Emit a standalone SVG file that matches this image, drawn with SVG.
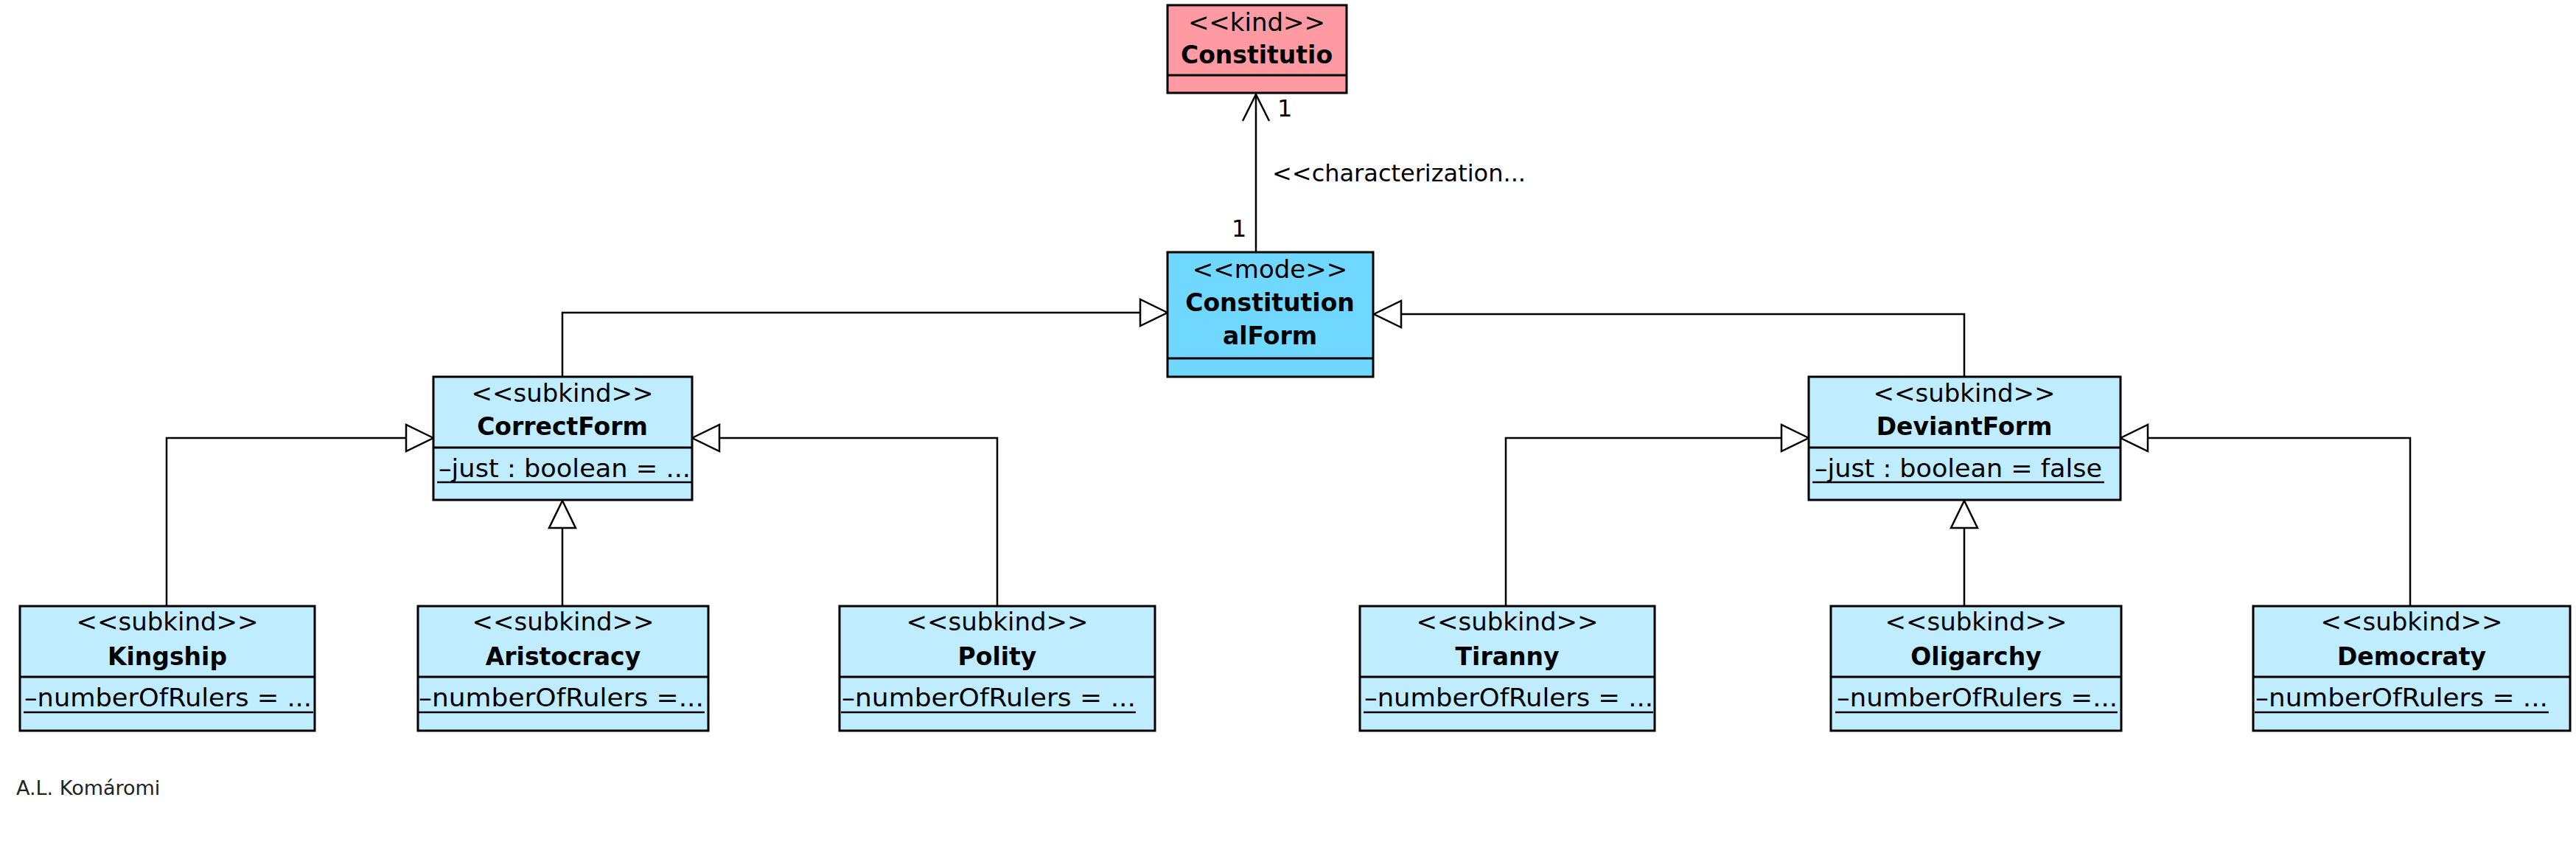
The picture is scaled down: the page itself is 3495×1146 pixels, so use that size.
<svg xmlns="http://www.w3.org/2000/svg" width="3495" height="1146" viewBox="0 0 3495 1146">
<style>
.box{stroke:#000;stroke-width:3}
.kind{fill:#FF9AA2}
.mode{fill:#70D7FF}
.sub{fill:#C0ECFF}
.sep{stroke:#000;stroke-width:3}
.ul{stroke:#000;stroke-width:2.5}
.t{font-family:"DejaVu Sans","Liberation Sans",sans-serif;font-size:34px;fill:#000}
.b{font-family:"DejaVu Sans","Liberation Sans",sans-serif;font-size:33px;font-weight:bold;fill:#000}
.c{text-anchor:middle}
.edge{fill:none;stroke:#000;stroke-width:2.5}
.gen{fill:#fff;stroke:#000;stroke-width:2.5;stroke-linejoin:miter}
.lbl{font-family:"DejaVu Sans","Liberation Sans",sans-serif;font-size:32px;fill:#000}
</style>
<rect width="3495" height="1146" fill="#fff"/>

<g id="connectors">
  <!-- characterization association -->
  <path class="edge" d="M1704,341 L1704,128"/>
  <path class="edge" d="M1686,164 L1704,128 L1722,164"/>
  <text class="lbl" x="1733" y="158">1</text>
  <text class="lbl" x="1671" y="321">1</text>
  <text class="lbl" x="1726" y="246">&lt;&lt;characterization...</text>
  <!-- CorrectForm -> ConstitutionalForm -->
  <path class="edge" d="M763,510 L763,424 L1548,424"/>
  <path class="gen" d="M1584,424 L1547,406 L1547,442 Z"/>
  <!-- DeviantForm -> ConstitutionalForm -->
  <path class="edge" d="M2665,510 L2665,426 L1900,426"/>
  <path class="gen" d="M1864,426 L1901,408 L1901,444 Z"/>
  <!-- Kingship -> CorrectForm -->
  <path class="edge" d="M226,821 L226,594 L551,594"/>
  <path class="gen" d="M588,594 L551,576 L551,612 Z"/>
  <!-- Aristocracy -> CorrectForm -->
  <path class="edge" d="M763,821 L763,716"/>
  <path class="gen" d="M763,679 L745,716 L781,716 Z"/>
  <!-- Polity -> CorrectForm -->
  <path class="edge" d="M1353,821 L1353,594 L976,594"/>
  <path class="gen" d="M939,594 L976,576 L976,612 Z"/>
  <!-- Tiranny -> DeviantForm -->
  <path class="edge" d="M2043,821 L2043,594 L2417,594"/>
  <path class="gen" d="M2454,594 L2417,576 L2417,612 Z"/>
  <!-- Oligarchy -> DeviantForm -->
  <path class="edge" d="M2665,821 L2665,716"/>
  <path class="gen" d="M2665,679 L2647,716 L2683,716 Z"/>
  <!-- Democraty -> DeviantForm -->
  <path class="edge" d="M3270,821 L3270,594 L2914,594"/>
  <path class="gen" d="M2877,594 L2914,576 L2914,612 Z"/>
</g>

<g id="Constitutio">
  <rect class="box kind" x="1584" y="7" width="243" height="119"/>
  <line class="sep" x1="1584" y1="102" x2="1827" y2="102"/>
  <text class="t c" x="1705" y="42">&lt;&lt;kind&gt;&gt;</text>
  <text class="b c" x="1705" y="86">Constitutio</text>
</g>

<g id="ConstitutionalForm">
  <rect class="box mode" x="1584" y="342" width="279" height="169"/>
  <line class="sep" x1="1584" y1="486" x2="1863" y2="486"/>
  <text class="t c" x="1723" y="377">&lt;&lt;mode&gt;&gt;</text>
  <text class="b c" x="1723" y="422">Constitution</text>
  <text class="b c" x="1723" y="467">alForm</text>
</g>

<g id="CorrectForm">
  <rect class="box sub" x="588" y="511" width="351" height="167"/>
  <line class="sep" x1="588" y1="607" x2="939" y2="607"/>
  <text class="t c" x="763" y="545">&lt;&lt;subkind&gt;&gt;</text>
  <text class="b c" x="763" y="590">CorrectForm</text>
  <text class="t" x="595" y="647" textLength="342" lengthAdjust="spacingAndGlyphs">–just : boolean = ...</text>
  <line class="ul" x1="593" y1="654" x2="938" y2="654"/>
</g>

<g id="DeviantForm">
  <rect class="box sub" x="2454" y="511" width="423" height="167"/>
  <line class="sep" x1="2454" y1="607" x2="2877" y2="607"/>
  <text class="t c" x="2665" y="545">&lt;&lt;subkind&gt;&gt;</text>
  <text class="b c" x="2665" y="590">DeviantForm</text>
  <text class="t" x="2462" y="647" textLength="390" lengthAdjust="spacingAndGlyphs">–just : boolean = false</text>
  <line class="ul" x1="2459" y1="654" x2="2855" y2="654"/>
</g>

<g id="Kingship">
  <rect class="box sub" x="27" y="822" width="400" height="169"/>
  <line class="sep" x1="27" y1="918" x2="427" y2="918"/>
  <text class="t c" x="227" y="855">&lt;&lt;subkind&gt;&gt;</text>
  <text class="b c" x="227" y="902">Kingship</text>
  <text class="t" x="33" y="958" textLength="390" lengthAdjust="spacingAndGlyphs">–numberOfRulers = ...</text>
  <line class="ul" x1="32" y1="966" x2="425" y2="966"/>
</g>

<g id="Aristocracy">
  <rect class="box sub" x="567" y="822" width="394" height="169"/>
  <line class="sep" x1="567" y1="918" x2="961" y2="918"/>
  <text class="t c" x="764" y="855">&lt;&lt;subkind&gt;&gt;</text>
  <text class="b c" x="764" y="902">Aristocracy</text>
  <text class="t" x="568" y="958" textLength="387" lengthAdjust="spacingAndGlyphs">–numberOfRulers =...</text>
  <line class="ul" x1="568" y1="966" x2="956" y2="966"/>
</g>

<g id="Polity">
  <rect class="box sub" x="1139" y="822" width="428" height="169"/>
  <line class="sep" x1="1139" y1="918" x2="1567" y2="918"/>
  <text class="t c" x="1353" y="855">&lt;&lt;subkind&gt;&gt;</text>
  <text class="b c" x="1353" y="902">Polity</text>
  <text class="t" x="1142" y="958" textLength="399" lengthAdjust="spacingAndGlyphs">–numberOfRulers = ...</text>
  <line class="ul" x1="1141" y1="966" x2="1541" y2="966"/>
</g>

<g id="Tiranny">
  <rect class="box sub" x="1845" y="822" width="400" height="169"/>
  <line class="sep" x1="1845" y1="918" x2="2245" y2="918"/>
  <text class="t c" x="2045" y="855">&lt;&lt;subkind&gt;&gt;</text>
  <text class="b c" x="2045" y="902">Tiranny</text>
  <text class="t" x="1851" y="958" textLength="392" lengthAdjust="spacingAndGlyphs">–numberOfRulers = ...</text>
  <line class="ul" x1="1850" y1="966" x2="2243" y2="966"/>
</g>

<g id="Oligarchy">
  <rect class="box sub" x="2484" y="822" width="394" height="169"/>
  <line class="sep" x1="2484" y1="918" x2="2878" y2="918"/>
  <text class="t c" x="2681" y="855">&lt;&lt;subkind&gt;&gt;</text>
  <text class="b c" x="2681" y="902">Oligarchy</text>
  <text class="t" x="2492" y="958" textLength="381" lengthAdjust="spacingAndGlyphs">–numberOfRulers =...</text>
  <line class="ul" x1="2490" y1="966" x2="2873" y2="966"/>
</g>

<g id="Democraty">
  <rect class="box sub" x="3057" y="822" width="430" height="169"/>
  <line class="sep" x1="3057" y1="918" x2="3487" y2="918"/>
  <text class="t c" x="3272" y="855">&lt;&lt;subkind&gt;&gt;</text>
  <text class="b c" x="3272" y="902">Democraty</text>
  <text class="t" x="3060" y="958" textLength="397" lengthAdjust="spacingAndGlyphs">–numberOfRulers = ...</text>
  <line class="ul" x1="3059" y1="966" x2="3458" y2="966"/>
</g>

<text x="22" y="1078" font-family="'DejaVu Sans','Liberation Sans',sans-serif" font-size="27" fill="#222">A.L. Komáromi</text>
</svg>
